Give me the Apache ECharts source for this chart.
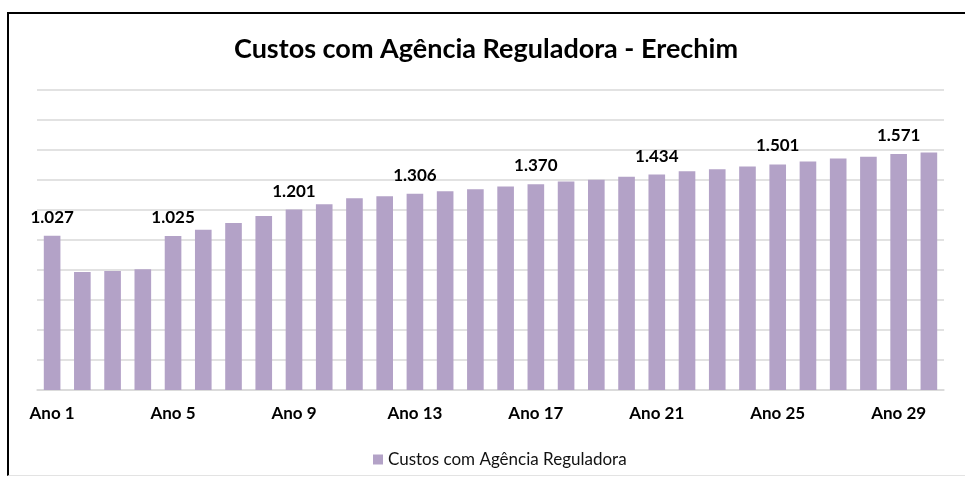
<!DOCTYPE html>
<html>
<head>
<meta charset="utf-8">
<script src="https://cdn.jsdelivr.net/npm/echarts@6/dist/echarts.min.js"></script>
<style>
  html, body { margin: 0; padding: 0; background: #fff; }
  #chart { position: absolute; left: 0; top: 0; width: 965px; height: 477px; }
  /* moldura da imagem original (linha preta em cima e à esquerda) */
  .frame {
    position: absolute; left: 7px; top: 12px; width: 1000px; height: 461px;
    border-left: 2px solid #000; border-top: 2px solid #000;
    border-bottom: 1px solid #e3e3e3;
    pointer-events: none;
  }
</style>
</head>
<body>
<div id="chart"></div>
<div class="frame"></div>
<script>
// --- dados (milhares de R$) ---
const anos = [];
for (let i = 1; i <= 30; i++) anos.push('Ano ' + i);

const custos = [
  1027, 786, 792, 804, 1025, 1067, 1112, 1158, 1201, 1237,
  1276, 1290, 1306, 1323, 1336, 1354, 1370, 1387, 1400, 1420,
  1434, 1456, 1469, 1487, 1501, 1520, 1540, 1553, 1571, 1580
];

const serieNome = 'Custos com Agência Reguladora';
const titulo = 'Custos com Agência Reguladora - Erechim';

const chart = echarts.init(document.getElementById('chart'));

const option = {
  animation: false,
  textStyle: { fontFamily: 'Lato' },
  title: {
    text: titulo,
    left: 481,
    textAlign: 'center',
    top: 31,
    textStyle: { fontSize: 27, fontWeight: 'bold', color: '#000', fontFamily: 'Lato' }
  },
  legend: {
    data: [serieNome],
    left: 368,
    top: 446,
    itemWidth: 10,
    itemHeight: 10,
    icon: 'rect',
    textStyle: { fontSize: 17, color: '#111', fontFamily: 'Lato' }
  },
  grid: { left: 37, right: 21, top: 89.5, bottom: 87 },
  xAxis: {
    type: 'category',
    data: anos,
    axisLine: { lineStyle: { color: '#d9d9d9', width: 1.5 } },
    axisTick: { show: false },
    axisLabel: {
      interval: 3,
      margin: 15,
      fontSize: 17,
      fontWeight: 'bold',
      color: '#000'
    }
  },
  yAxis: {
    type: 'value',
    min: 0,
    max: 2000,
    interval: 200,
    axisLabel: { show: false },
    axisLine: { show: false },
    axisTick: { show: false },
    splitLine: { lineStyle: { color: '#d9d9d9', width: 1.5 } }
  },
  series: [
    {
      name: serieNome,
      type: 'bar',
      data: custos,
      barWidth: '55%',
      itemStyle: { color: '#b3a2c7' },
      label: {
        show: true,
        position: 'top',
        distance: 10,
        fontSize: 17,
        fontWeight: 'bold',
        color: '#000',
        formatter: p => (p.dataIndex % 4 === 0 ? (p.value / 1000).toFixed(3) : '')
      }
    }
  ]
};

chart.setOption(option);
</script>
</body>
</html>
